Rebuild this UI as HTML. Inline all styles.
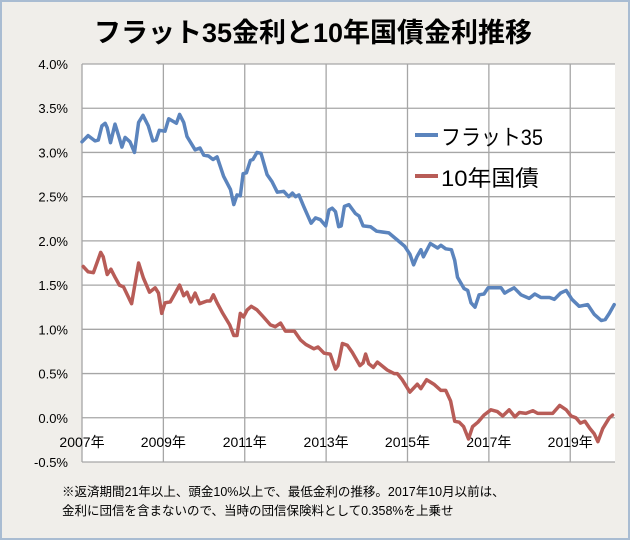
<!DOCTYPE html>
<html><head><meta charset="utf-8"><style>
body{margin:0;background:#fff}
#wrap{position:relative;width:626px;height:536px;border:2px solid #a9bcd2;background:#f0eeea;overflow:hidden}
text{font-family:"Liberation Sans","Noto Sans CJK JP",sans-serif}
</style></head><body>
<div id="wrap">
<svg id="chart" width="626" height="536" viewBox="2 2 626 536">
<text x="313" y="42" text-anchor="middle" font-size="27" font-weight="bold" fill="#000">フラット35金利と10年国債金利推移</text>
<rect x="82" y="64" width="533" height="398" fill="#fff"/>
<g id="grid"></g>
<g id="yticks"></g>
<g id="xticks"></g>
<g id="series"></g>
<g>
<line x1="415" y1="135" x2="438" y2="135" stroke="#5b84bd" stroke-width="4"/>
<text x="441" y="145" font-size="22" textLength="102" lengthAdjust="spacingAndGlyphs">フラット35</text>
<line x1="415" y1="176" x2="438" y2="176" stroke="#b85c57" stroke-width="4"/>
<text x="441" y="186" font-size="22" textLength="98" lengthAdjust="spacingAndGlyphs">10年国債</text>
</g>
<text x="62" y="496" font-size="12.5">※返済期間21年以上、頭金10%以上で、最低金利の推移。2017年10月以前は、</text>
<text x="62" y="515" font-size="12.5">金利に団信を含まないので、当時の団信保険料として0.358%を上乗せ</text>
</svg>
</div>
<script>
const yTickValues=[4.0,3.5,3.0,2.5,2.0,1.5,1.0,0.5,0.0,-0.5];
const yTickLabels=["4.0%","3.5%","3.0%","2.5%","2.0%","1.5%","1.0%","0.5%","0.0%","-0.5%"];
const xTickYears=[2007,2009,2011,2013,2015,2017,2019];
const xTickLabels=["2007年","2009年","2011年","2013年","2015年","2017年","2019年"];
const flatDates=[2007.0,2007.15,2007.32,2007.4,2007.49,2007.57,2007.62,2007.7,2007.81,2007.9,2007.98,2008.06,2008.18,2008.29,2008.39,2008.5,2008.63,2008.74,2008.82,2008.9,2009.04,2009.13,2009.32,2009.4,2009.5,2009.58,2009.78,2009.9,2009.99,2010.11,2010.22,2010.32,2010.48,2010.65,2010.73,2010.81,2010.89,2010.96,2011.04,2011.14,2011.2,2011.3,2011.4,2011.55,2011.67,2011.8,2011.96,2012.08,2012.17,2012.25,2012.33,2012.45,2012.63,2012.74,2012.86,2012.99,2013.07,2013.15,2013.23,2013.31,2013.37,2013.45,2013.56,2013.72,2013.81,2013.91,2014.09,2014.24,2014.54,2014.75,2014.93,2015.06,2015.15,2015.23,2015.33,2015.39,2015.56,2015.74,2015.82,2015.94,2016.08,2016.16,2016.23,2016.39,2016.48,2016.56,2016.66,2016.76,2016.88,2016.98,2017.13,2017.3,2017.39,2017.5,2017.62,2017.79,2017.99,2018.13,2018.28,2018.49,2018.61,2018.76,2018.9,2019.04,2019.22,2019.43,2019.59,2019.76,2019.86,2019.96,2020.08];
const flatRates=[3.12,3.19,3.13,3.14,3.30,3.33,3.28,3.11,3.32,3.19,3.06,3.17,3.12,3.00,3.34,3.42,3.30,3.13,3.14,3.25,3.24,3.38,3.33,3.43,3.34,3.18,3.03,3.05,2.97,2.96,2.92,2.95,2.73,2.58,2.41,2.52,2.51,2.76,2.77,2.91,2.92,3.00,2.99,2.75,2.67,2.55,2.56,2.50,2.54,2.50,2.52,2.39,2.20,2.26,2.24,2.17,2.35,2.37,2.33,2.16,2.17,2.39,2.41,2.31,2.28,2.17,2.16,2.11,2.09,2.01,1.94,1.85,1.73,1.82,1.90,1.82,1.97,1.92,1.95,1.91,1.90,1.78,1.59,1.46,1.44,1.30,1.25,1.39,1.40,1.47,1.47,1.47,1.41,1.44,1.47,1.39,1.35,1.40,1.36,1.36,1.34,1.41,1.44,1.34,1.26,1.28,1.17,1.10,1.11,1.18,1.28];
const jgbDates=[2007.03,2007.15,2007.28,2007.46,2007.52,2007.62,2007.71,2007.81,2007.92,2008.02,2008.22,2008.39,2008.51,2008.66,2008.8,2008.88,2008.96,2009.04,2009.17,2009.29,2009.4,2009.5,2009.58,2009.68,2009.78,2009.89,2010.07,2010.15,2010.23,2010.32,2010.46,2010.63,2010.73,2010.81,2010.89,2010.97,2011.06,2011.16,2011.3,2011.46,2011.63,2011.75,2011.88,2012.0,2012.22,2012.37,2012.5,2012.7,2012.8,2012.95,2013.1,2013.23,2013.29,2013.4,2013.52,2013.64,2013.83,2013.91,2013.97,2014.05,2014.16,2014.26,2014.5,2014.67,2014.75,2014.87,2015.06,2015.24,2015.33,2015.47,2015.65,2015.82,2015.94,2016.06,2016.16,2016.27,2016.38,2016.5,2016.6,2016.73,2016.88,2017.05,2017.21,2017.34,2017.5,2017.64,2017.75,2017.91,2018.08,2018.2,2018.37,2018.57,2018.74,2018.9,2019.02,2019.14,2019.25,2019.36,2019.48,2019.59,2019.68,2019.8,2019.96,2020.04];
const jgbRates=[1.71,1.65,1.64,1.87,1.82,1.62,1.68,1.59,1.50,1.48,1.29,1.75,1.58,1.42,1.47,1.41,1.18,1.30,1.31,1.41,1.50,1.38,1.42,1.31,1.41,1.29,1.32,1.32,1.39,1.30,1.18,1.05,0.93,0.93,1.18,1.14,1.22,1.26,1.22,1.14,1.05,1.03,1.07,0.98,0.98,0.88,0.83,0.78,0.80,0.73,0.72,0.55,0.59,0.84,0.82,0.74,0.59,0.62,0.72,0.61,0.57,0.63,0.54,0.50,0.50,0.43,0.29,0.38,0.33,0.43,0.38,0.31,0.31,0.19,-0.04,-0.05,-0.10,-0.24,-0.10,-0.05,0.03,0.09,0.07,0.02,0.09,0.01,0.06,0.05,0.08,0.05,0.05,0.05,0.14,0.09,0.02,0.00,-0.06,-0.04,-0.12,-0.18,-0.27,-0.12,0.00,0.03];

const NS="http://www.w3.org/2000/svg";
const X0=82,X1=615,Y0=64,Y1=462;
const xMin=2007,xMax=2020.1,yMin=-0.5,yMax=4.0;
function xs(t){return X0+(t-xMin)/(xMax-xMin)*(X1-X0);}
function ys(v){return Y1-(v-yMin)/(yMax-yMin)*(Y1-Y0);}
function mk(tag,attrs,parent){const e=document.createElementNS(NS,tag);for(const k in attrs)e.setAttribute(k,attrs[k]);parent.appendChild(e);return e;}
const grid=document.getElementById('grid'),yt=document.getElementById('yticks'),xt=document.getElementById('xticks'),ser=document.getElementById('series');
yTickValues.forEach((v,i)=>{
  const l=mk('line',{x1:X0,x2:X1,y1:ys(v),y2:ys(v),stroke:'#a6a6a6','stroke-width':1.3},grid);
  
  
  const t=mk('text',{x:68,y:ys(v)+5,'text-anchor':'end','font-size':13},yt);
  t.textContent=yTickLabels[i];
  
  
});
xTickYears.forEach((yr,i)=>{
  const l=mk('line',{x1:xs(yr),x2:xs(yr),y1:Y0,y2:Y1,stroke:'#a6a6a6','stroke-width':1.3},grid);
  
  
  const t=mk('text',{x:xs(yr),y:447,'text-anchor':'middle','font-size':14},xt);
  t.textContent=xTickLabels[i];
  
  
});
function line(dates,vals,color,name){
  const d=dates.map((t,i)=>(i?'L':'M')+xs(t).toFixed(1)+','+ys(vals[i]).toFixed(1)).join('');
  const p=mk('path',{d:d,fill:'none',stroke:color,'stroke-width':3.5,'stroke-linejoin':'round','stroke-linecap':'round'},ser);
  
  
}
line(flatDates,flatRates,'#5b84bd','flat35-line');
line(jgbDates,jgbRates,'#b85c57','jgb-10y-line');
</script>
</body></html>
